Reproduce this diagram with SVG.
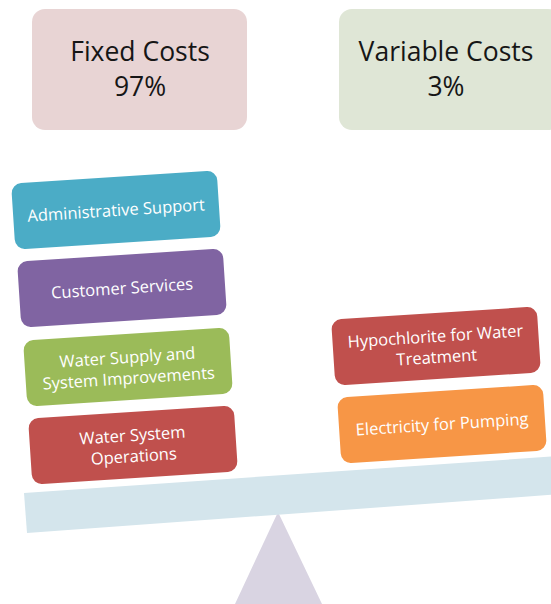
<svg xmlns="http://www.w3.org/2000/svg" width="551" height="604" viewBox="0 0 551 604">
  <style>
    .head { font-family: "Open Sans", "Liberation Sans", sans-serif; font-size: 26.5px; fill: #161616; text-anchor: middle; }
    .lbl { font-family: "Open Sans", "Liberation Sans", sans-serif; font-size: 16.5px; font-weight: 500; fill: #ffffff; text-anchor: middle; }
    .blk { stroke: none; }
  </style>
  <rect width="551" height="604" fill="#ffffff"/>

  <!-- summary boxes -->
  <g id="fixed-costs">
    <rect x="32" y="9" width="215" height="121" rx="13" fill="#e8d4d4"/>
    <text class="head" x="140" y="61">Fixed Costs</text>
    <text class="head" x="140" y="96">97%</text>
  </g>
  <g id="variable-costs">
    <rect x="339" y="9" width="222" height="121" rx="13" fill="#dfe6d6"/>
    <text class="head" x="446" y="61">Variable Costs</text>
    <text class="head" x="446" y="96">3%</text>
  </g>

  <!-- fulcrum and beam -->
  <g id="scale">
    <polygon points="278,512 235,604 322,604" fill="#d9d4e2"/>
    <polygon points="24,493 560,456 563,494 27,533" fill="#d4e5ec"/>
  </g>

  <!-- fixed cost items -->
  <g id="administrative-support" transform="translate(116,210) rotate(-3.7)">
    <rect class="blk" x="-103" y="-33" width="206" height="66" rx="10" fill="#4bacc6"/>
    <text class="lbl" x="0" y="6">Administrative Support</text>
  </g>
  <g id="customer-services" transform="translate(122,288) rotate(-3.7)">
    <rect class="blk" x="-103" y="-33" width="206" height="66" rx="10" fill="#8064a2"/>
    <text class="lbl" x="0" y="6">Customer Services</text>
  </g>
  <g id="water-supply" transform="translate(128,367) rotate(-3.7)">
    <rect class="blk" x="-103" y="-33" width="206" height="66" rx="10" fill="#9bbb59"/>
    <text class="lbl" x="0" y="-4">Water Supply and</text>
    <text class="lbl" x="0" y="17">System Improvements</text>
  </g>
  <g id="water-system-operations" transform="translate(133,445) rotate(-3.7)">
    <rect class="blk" x="-103" y="-33" width="206" height="66" rx="10" fill="#c0504d"/>
    <text class="lbl" x="0" y="-4">Water System</text>
    <text class="lbl" x="0" y="17">Operations</text>
  </g>

  <!-- variable cost items -->
  <g id="hypochlorite" transform="translate(436,346) rotate(-3.7)">
    <rect class="blk" x="-103" y="-33" width="206" height="66" rx="10" fill="#c0504d"/>
    <text class="lbl" x="0" y="-4">Hypochlorite for Water</text>
    <text class="lbl" x="0" y="17">Treatment</text>
  </g>
  <g id="electricity" transform="translate(442,424) rotate(-3.7)">
    <rect class="blk" x="-103" y="-33" width="206" height="66" rx="10" fill="#f79646"/>
    <text class="lbl" x="0" y="6">Electricity for Pumping</text>
  </g>
</svg>
